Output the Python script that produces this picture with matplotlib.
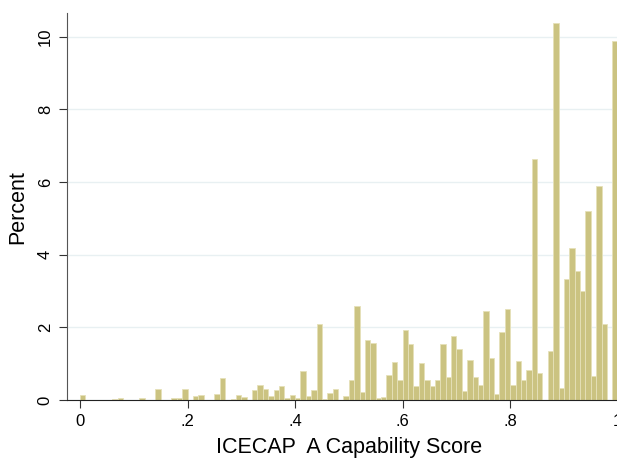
import matplotlib
matplotlib.use("Agg")
import matplotlib.pyplot as plt
import numpy as np

plt.rcParams['font.family'] = ['Liberation Sans', 'DejaVu Sans']

# histogram of ICECAP-A scores, 100 bins of width .01 (percent per bin)
bin_width = 0.01
bin_start = np.arange(100) * bin_width
percent = [0.13, 0, 0, 0, 0, 0, 0.02, 0.06, 0, 0,
           0, 0.06, 0, 0, 0.29, 0, 0, 0.05, 0.05, 0.29,
           0, 0.11, 0.13, 0, 0.01, 0.17, 0.60, 0, 0.04, 0.15,
           0.07, 0, 0.27, 0.42, 0.31, 0.11, 0.27, 0.39, 0.06, 0.15,
           0.06, 0.81, 0.12, 0.28, 2.10, 0.04, 0.20, 0.31, 0, 0.11,
           0.54, 2.59, 0.21, 1.64, 1.56, 0.05, 0.07, 0.69, 1.05, 0.55,
           1.92, 1.53, 0.38, 1.03, 0.56, 0.38, 0.54, 1.53, 0.62, 1.75,
           1.40, 0.24, 1.09, 0.62, 0.41, 2.44, 1.15, 0.16, 1.86, 2.50,
           0.40, 1.07, 0.55, 0.82, 6.64, 0.74, 0, 1.35, 10.38, 0.33,
           3.32, 4.18, 3.54, 2.99, 5.20, 0.65, 5.89, 2.10, 0, 9.88]

xticks = [0, 0.2, 0.4, 0.6, 0.8, 1]
xticklabels = ['0', '.2', '.4', '.6', '.8', '1']
yticks = [0, 2, 4, 6, 8, 10]

W, H = 617, 459
fig = plt.figure(figsize=(W / 100, H / 100), dpi=100)
# plot region runs past the right edge of the picture (cropped like the original)
ax = fig.add_axes([66.7 / W, (H - 400) / H, (631 - 66.7) / W, (400 - 13.3) / H])

ax.bar(bin_start, percent, width=bin_width, align='edge',
       color='#CBC381', edgecolor='#E6E1B9', linewidth=0.6, zorder=2)

ax.set_xlim(-0.0247, 1.0247)
ax.set_ylim(0, 10.64)

ax.set_yticks(yticks)
ax.set_yticklabels([str(v) for v in yticks], rotation=90, va='center')
ax.set_xticks(xticks)
ax.set_xticklabels(xticklabels)
ax.tick_params(axis='both', labelsize=12, length=6, width=0.8, color='#333333', pad=4)
ax.yaxis.grid(True, color='#E8F0F2', linewidth=1.0, zorder=0)
ax.set_axisbelow(True)

for side in ['top', 'right']:
    ax.spines[side].set_visible(False)
ax.spines['left'].set_color('#555555')
ax.spines['bottom'].set_color('#222222')

ax.set_xlabel('ICECAP  A Capability Score', fontsize=15.5, labelpad=6)
ax.set_ylabel('Percent', fontsize=15.5, labelpad=7)

fig.savefig('out.png', dpi=100)
